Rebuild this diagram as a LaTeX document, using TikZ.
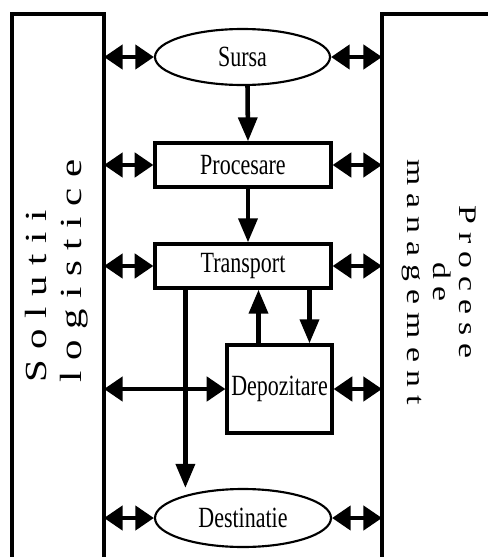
\documentclass[tikz,border=0pt]{standalone}
\usepackage{fontspec}
\setmainfont{Liberation Serif}
\newfontfamily\blocfont[FakeStretch=0.75]{Liberation Serif}
\newfontfamily\stangafont[LetterSpace=26]{Liberation Serif}
\newfontfamily\dreaptafont[LetterSpace=24]{Liberation Serif}
\newcommand{\latit}[1]{\scalebox{1.33}[1]{#1}}
\usetikzlibrary{shapes.geometric,arrows.meta}

\tikzset{
    bloc/.style={draw, line width=2.4pt, inner sep=0pt, font=\blocfont\fontsize{22}{26}\selectfont},
    capat/.style={ellipse, draw, line width=1.6pt, inner sep=0pt, font=\blocfont\fontsize{22}{26}\selectfont},
    panou/.style={draw, line width=2.4pt, outer sep=0pt, anchor=north west},
    dublu/.style={line width=3.4pt, {Triangle[length=14pt,width=18pt]}-{Triangle[length=14pt,width=18pt]}},
    sageata/.style={line width=3.4pt, -{Triangle[length=18pt,width=14pt]}},
}

\begin{document}
\begin{tikzpicture}[x=0.75pt,y=0.75pt]
            % Pixelgroesse
            \def\px{0.75pt}
            \useasboundingbox (0,0) rectangle (488,-557);

            % Seitenteile
            \node[panou, minimum width=92*\px, minimum height=600*\px] (stanga) at (12,-14) {};
            \node[panou, minimum width=150*\px, minimum height=600*\px] (dreapta) at (382,-14) {};
            \node[rotate=90, anchor=west, align=left, inner sep=0pt,
                  font=\stangafont\fontsize{23}{26}\selectfont] (solutii) at (57,-383) {\latit{Solutii}\\\latit{logistice}};
            \node[rotate=-90, align=center, inner sep=0pt,
                  font=\dreaptafont\fontsize{19}{19.5}\selectfont] (procese) at (439,-282) {\latit{Procese}\\\latit{de}\\\latit{management}};

            % Bloecke
            \node[capat, minimum width=175*\px, minimum height=56*\px] (sursa) at (242.5,-57) {Sursa};
            \node[bloc, minimum width=176*\px, minimum height=44*\px] (procesare) at (243,-165) {Procesare};
            \node[bloc, minimum width=176*\px, minimum height=44*\px] (transport) at (243,-266) {Transport};
            \node[bloc, minimum width=105*\px, minimum height=88*\px] (depozitare) at (279.5,-389) {Depozitare};
            \node[capat, minimum width=176*\px, minimum height=58*\px] (destinatie) at (243,-518) {Destinatie};

            % Doppelpfeile zu beiden Seiten
            \foreach \n in {sursa,procesare,transport,depozitare,destinatie} {
                \draw[dublu] (\n.west -| stanga.east) -- (\n.west);
                \draw[dublu] (\n.east) -- (\n.east -| dreapta.west);
            }

            % Fluss
            \draw[sageata] ([xshift=5*\px]sursa.south) -- ([xshift=5*\px]procesare.north);
            \draw[sageata] ([xshift=5*\px]procesare.south) -- ([xshift=5*\px]transport.north);
            \draw[sageata] ([xshift=32*\px]transport.south west) -- ([xshift=32*\px]transport.south west |- destinatie.north);
            \draw[sageata] ([xshift=-21*\px]depozitare.north) -- ([xshift=-21*\px]depozitare.north |- transport.south);
            \draw[sageata] ([xshift=30*\px]depozitare.north |- transport.south) -- ([xshift=30*\px]depozitare.north);
        \end{tikzpicture}
\end{document}
